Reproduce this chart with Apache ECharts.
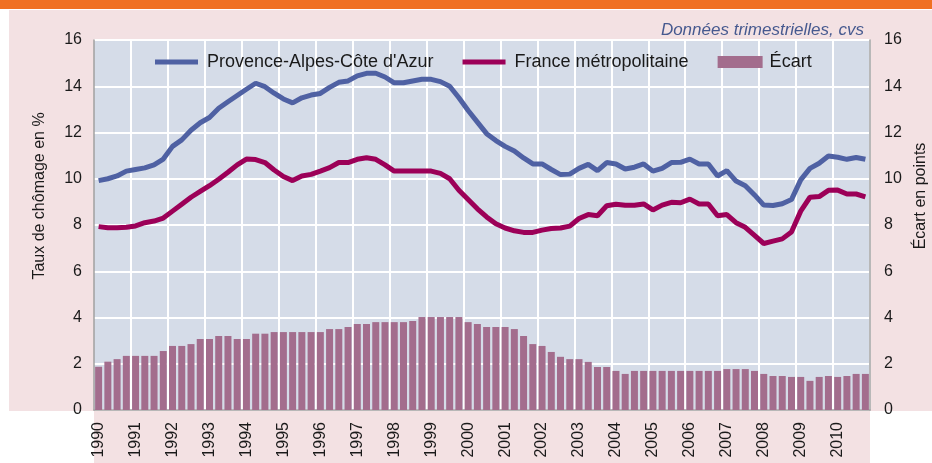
<!DOCTYPE html>
<html><head><meta charset="utf-8">
<script src="https://cdn.jsdelivr.net/npm/echarts@6/dist/echarts.min.js"></script>
<style>html,body{margin:0;padding:0;background:#fff}#c{width:932px;height:463px}</style>
</head><body><div id="c"></div>
<script>
const years = [1990,1991,1992,1993,1994,1995,1996,1997,1998,1999,2000,2001,2002,2003,2004,2005,2006,2007,2008,2009,2010];
const quarters = ['T1','T2','T3','T4'];
const paca = [9.92,10.0,10.12,10.33,10.4,10.47,10.6,10.85,11.4,11.68,
  12.1,12.42,12.65,13.05,13.33,13.6,13.87,14.13,13.98,13.7,
  13.45,13.28,13.5,13.62,13.69,13.95,14.17,14.23,14.45,14.56,
  14.56,14.4,14.15,14.15,14.23,14.3,14.3,14.2,14.0,13.5,
  12.95,12.45,11.95,11.65,11.4,11.2,10.9,10.64,10.64,10.4,
  10.18,10.2,10.45,10.62,10.35,10.7,10.64,10.42,10.5,10.64,
  10.33,10.45,10.7,10.71,10.85,10.64,10.64,10.12,10.35,9.9,
  9.7,9.3,8.86,8.84,8.92,9.1,9.95,10.45,10.67,10.98,
  10.93,10.84,10.92,10.84];
const france = [7.93,7.88,7.88,7.9,7.96,8.1,8.17,8.3,8.6,8.9,
  9.2,9.45,9.7,9.98,10.28,10.6,10.85,10.83,10.7,10.38,
  10.1,9.92,10.12,10.19,10.33,10.48,10.7,10.7,10.84,10.91,
  10.84,10.6,10.33,10.33,10.33,10.33,10.33,10.23,10.0,9.5,
  9.1,8.7,8.35,8.05,7.87,7.75,7.68,7.68,7.78,7.85,
  7.87,7.95,8.28,8.45,8.4,8.83,8.9,8.85,8.85,8.91,
  8.65,8.86,8.98,8.96,9.12,8.91,8.91,8.4,8.45,8.1,
  7.9,7.55,7.2,7.3,7.4,7.7,8.6,9.2,9.23,9.5,
  9.51,9.34,9.34,9.22];
const ecart = [1.87,2.09,2.2,2.34,2.34,2.34,2.34,2.55,2.77,2.77,
  2.85,3.07,3.07,3.2,3.2,3.07,3.07,3.3,3.3,3.37,
  3.37,3.37,3.37,3.37,3.37,3.5,3.5,3.59,3.72,3.72,
  3.8,3.8,3.8,3.8,3.85,4.02,4.02,4.02,4.02,4.02,
  3.8,3.72,3.59,3.59,3.59,3.5,3.2,2.85,2.77,2.51,
  2.3,2.2,2.2,2.08,1.86,1.86,1.69,1.56,1.69,1.69,
  1.69,1.69,1.69,1.69,1.69,1.69,1.69,1.69,1.77,1.77,
  1.77,1.69,1.56,1.47,1.47,1.43,1.43,1.26,1.43,1.47,
  1.43,1.47,1.56,1.56];
const yTicks = [0,2,4,6,8,10,12,14,16];

const categories = [];
years.forEach(y => quarters.forEach(q => categories.push(y + ' ' + q)));

const FONT = "'Liberation Sans', Arial, sans-serif";
const lineIcon = 'path://M0,0h0.01v0.01h-0.01z M0,4.5h43v5h-43z M46.99,13.99h0.01v0.01h-0.01z';
const rectIcon = 'path://M0,0h0.01v0.01h-0.01z M0,1h45v12h-45z M46.99,13.99h0.01v0.01h-0.01z';

const chart = echarts.init(document.getElementById('c'), null, {renderer: 'canvas'});
chart.setOption({
  animation: false,
  backgroundColor: '#ffffff',
  textStyle: {fontFamily: FONT},
  title: {
    text: 'Données trimestrielles, cvs',
    right: 63, top: 17,
    textStyle: {fontFamily: FONT, fontStyle: 'italic', fontWeight: 'normal', fontSize: 17, color: '#46598f'}
  },
  graphic: [
    {type: 'rect', z: -10, shape: {x: 0, y: 0, width: 932, height: 9}, style: {fill: '#f07022'}},
    {type: 'rect', z: -10, shape: {x: 9, y: 10, width: 923, height: 401}, style: {fill: '#f3e1e3'}},
    {type: 'rect', z: -10, shape: {x: 94, y: 410, width: 776, height: 53}, style: {fill: '#f3e1e3'}},
    {type: 'text', z: 10, x: 40, y: 196, rotation: Math.PI / 2,
      style: {text: 'Taux de chômage en %', font: '16px ' + FONT, fill: '#1a1a1a', textAlign: 'center', textVerticalAlign: 'middle'}},
    {type: 'text', z: 10, x: 921, y: 196, rotation: Math.PI / 2,
      style: {text: 'Écart en points', font: '16px ' + FONT, fill: '#1a1a1a', textAlign: 'center', textVerticalAlign: 'middle'}}
  ],
  legend: {
    left: 150, top: 48,
    itemWidth: 47, itemHeight: 14, itemGap: 29,
    textStyle: {fontFamily: FONT, fontSize: 18, color: '#1a1a1a'},
    itemStyle: {borderWidth: 0},
    data: [
      {name: "Provence-Alpes-Côte d'Azur", icon: lineIcon},
      {name: 'France métropolitaine', icon: lineIcon},
      {name: 'Écart', icon: rectIcon}
    ]
  },
  grid: {left: 94, right: 62, top: 40, bottom: 53, show: true, backgroundColor: '#d5dce8', borderWidth: 0},
  xAxis: {
    type: 'category', data: categories, boundaryGap: true,
    axisLine: {show: true, lineStyle: {color: '#a0a0a0', width: 1.5}},
    axisTick: {show: false},
    axisLabel: {
      rotate: 90, margin: 12, fontSize: 16, color: '#1a1a1a', fontFamily: FONT,
      interval: (i) => i % 4 === 0,
      formatter: (v) => v.slice(0, 4)
    },
    splitLine: {show: true, interval: (i) => i % 4 === 0 && i > 0, lineStyle: {color: '#ffffff', width: 2}}
  },
  yAxis: [
    {type: 'value', min: yTicks[0], max: yTicks[yTicks.length - 1], interval: 2,
      axisLine: {show: true, lineStyle: {color: '#a0a0a0', width: 1.5}},
      axisTick: {show: false},
      axisLabel: {margin: 12, fontSize: 16, color: '#1a1a1a', fontFamily: FONT},
      splitLine: {show: true, lineStyle: {color: '#ffffff', width: 2}}},
    {type: 'value', position: 'right', min: yTicks[0], max: yTicks[yTicks.length - 1], interval: 2,
      axisLine: {show: true, lineStyle: {color: '#a0a0a0', width: 1.5}},
      axisTick: {show: false},
      axisLabel: {margin: 14, fontSize: 16, color: '#1a1a1a', fontFamily: FONT},
      splitLine: {show: false}}
  ],
  series: [
    {name: 'Écart', type: 'bar', yAxisIndex: 1, data: ecart, barWidth: 7,
      itemStyle: {color: '#a36d8d'}, z: 1},
    {name: "Provence-Alpes-Côte d'Azur", type: 'line', data: paca, symbol: 'none', showSymbol: false,
      lineStyle: {color: '#4f61a3', width: 5}, itemStyle: {color: '#4f61a3'}, z: 3},
    {name: 'France métropolitaine', type: 'line', data: france, symbol: 'none', showSymbol: false,
      lineStyle: {color: '#9c0058', width: 5}, itemStyle: {color: '#9c0058'}, z: 3}
  ]
});
</script></body></html>
